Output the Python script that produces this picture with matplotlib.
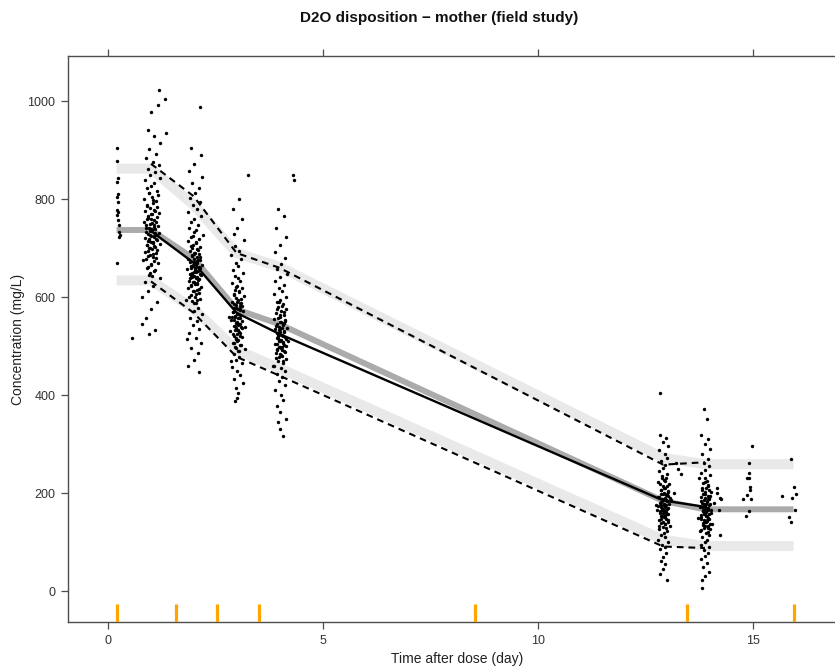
import numpy as np
import matplotlib
matplotlib.use("Agg")
import matplotlib.pyplot as plt
import matplotlib.transforms as mtransforms

plt.rcParams['font.family'] = ['Liberation Sans', 'DejaVu Sans']

# bin boundaries (orange rug on the x axis)
bin_edges = [0.20, 1.58, 2.53, 3.50, 8.53, 13.47, 15.94]

# observed percentiles at bin medians
bin_mid = [1.00, 1.99, 2.99, 3.98, 12.91, 13.88]
obs_p50 = [735, 670, 568, 525, 185, 172]
obs_p05 = [632, 568, 478, 440, 91, 88]
obs_p95 = [872, 806, 690, 660, 258, 263]

# simulated percentiles (flat out to first / last bin boundary)
sim_x = [0.20, 1.00, 1.99, 2.99, 3.98, 12.91, 13.88, 15.94]
sim_p50 = [737, 737, 679, 575, 545, 184, 167, 167]
sim_p05 = [634, 634, 576, 492, 455, 105, 92, 92]
sim_p95 = [862, 862, 788, 690, 662, 272, 259, 259]

# observations, grouped by sampling occasion
a_time = [0.22, 0.21, 0.23, 0.22, 0.24, 0.21, 0.23, 0.22, 0.24, 0.21, 0.23, 0.25, 0.26, 0.27, 0.26, 0.22, 0.55]
a_conc = [904, 878, 843, 835, 811, 805, 795, 778, 774, 767, 757, 747, 733, 727, 722, 670, 516]

b_time = [1.19, 1.33, 1.16, 1.00, 1.36, 0.92, 1.08, 1.22, 0.95, 1.12,
          0.88, 1.04, 1.18, 0.93, 1.10, 0.98, 1.20, 0.86, 1.06, 1.01,
          0.90, 1.14, 0.96, 1.17, 1.02, 0.84, 1.11, 1.05, 0.91, 1.15,
          0.97, 1.08, 0.87, 1.19, 1.03, 0.94, 1.13, 0.99, 1.07, 0.83,
          1.02, 0.89, 1.16, 0.95, 1.10, 1.00, 0.88, 1.18, 0.97, 1.06,
          0.85, 1.12, 0.93, 1.04, 1.21, 0.91, 1.09, 0.98, 1.15, 0.87,
          1.05, 0.94, 1.11, 0.82, 1.17, 1.00, 0.90, 1.08, 0.96, 1.22,
          0.86, 1.05, 0.93, 0.80, 1.13, 1.00, 0.89, 0.79, 1.10, 0.95,
          0.96, 1.04, 0.91, 1.09, 1.00, 0.94, 1.12, 0.98, 1.06, 0.89,
          1.03, 0.97, 1.10, 0.92, 1.01, 1.07, 0.95, 1.13, 0.99, 1.05,
          0.90, 1.08, 0.96, 1.02, 0.93, 1.11, 0.98, 1.04, 0.88, 1.06,
          1.00, 0.94, 1.09, 0.97, 1.03, 0.91, 1.07, 0.99, 1.14, 0.95]
b_conc = [1022, 1005, 992, 978, 934, 940, 928, 915, 902, 893,
          884, 876, 869, 862, 856, 850, 844, 838, 832, 827,
          822, 817, 812, 808, 804, 800, 796, 792, 788, 784,
          781, 778, 775, 772, 769, 766, 763, 760, 757, 754,
          751, 748, 745, 742, 739, 736, 733, 730, 727, 724,
          721, 718, 715, 712, 709, 706, 703, 700, 696, 692,
          688, 684, 680, 675, 670, 665, 659, 653, 646, 639,
          631, 622, 612, 601, 590, 575, 558, 545, 533, 524,
          812, 798, 785, 776, 769, 761, 754, 749, 744, 740,
          737, 734, 731, 728, 725, 722, 719, 716, 713, 710,
          707, 704, 701, 698, 694, 690, 686, 682, 678, 673,
          668, 662, 656, 650, 644, 760, 747, 738, 726, 715]

c_time = [2.14, 1.93, 2.16, 2.00, 1.88, 2.18, 1.96, 2.11, 2.03, 1.91,
          2.13, 1.98, 2.07, 1.86, 2.17, 2.01, 1.94, 2.10, 1.89, 2.05,
          2.00, 2.20, 1.92, 2.12, 1.85, 2.04, 1.97, 2.15, 2.08, 1.90,
          2.02, 2.11, 1.95, 2.06, 1.87, 2.14, 1.99, 2.07, 2.19, 1.93,
          2.03, 1.84, 2.09, 2.00, 1.91, 2.16, 1.96, 2.05, 2.12, 1.89,
          2.01, 2.08, 1.94, 2.17, 1.86, 2.06, 1.98, 2.11, 1.92, 2.03,
          2.14, 1.95, 2.05, 1.82, 2.10, 2.00, 2.18, 1.90, 2.07, 1.97,
          2.12, 1.88, 2.04, 2.16, 1.93, 2.09, 1.99, 1.85, 2.11, 1.83,
          1.97, 2.05, 1.92, 2.10, 2.01, 1.95, 2.13, 1.99, 2.07, 1.90,
          2.04, 1.98, 2.11, 1.93, 2.02, 2.08, 1.96, 2.14, 2.00, 2.06,
          1.91, 2.09, 1.97, 2.03, 1.94, 2.12, 1.99, 2.05, 1.89, 2.07,
          2.01, 1.95, 2.10, 1.98, 2.04, 1.92, 2.08, 2.00, 2.15, 1.96]
c_conc = [988, 905, 890, 872, 858, 845, 833, 822, 812, 803,
          795, 787, 780, 773, 766, 760, 754, 748, 742, 737,
          732, 727, 722, 718, 714, 710, 706, 702, 698, 694,
          690, 687, 684, 681, 678, 675, 672, 669, 666, 663,
          660, 657, 654, 651, 648, 645, 642, 639, 636, 633,
          630, 627, 624, 621, 618, 615, 612, 608, 604, 600,
          596, 592, 587, 595, 577, 571, 565, 558, 551, 543,
          535, 526, 517, 507, 496, 485, 472, 460, 448, 515,
          725, 712, 704, 697, 691, 686, 682, 678, 674, 671,
          668, 665, 662, 659, 656, 653, 650, 647, 644, 641,
          638, 634, 630, 626, 622, 617, 612, 606, 600, 594,
          588, 700, 676, 664, 652, 640, 628, 688, 660, 645]

d_time = [3.25, 3.05, 2.90, 3.12, 3.00, 2.93, 3.16, 2.96, 3.04, 2.87,
          3.09, 2.98, 3.02, 2.91, 3.13, 2.95, 3.03, 3.07, 2.88, 3.00,
          3.11, 2.96, 3.04, 2.92, 3.17, 2.98, 3.02, 2.89, 3.08, 2.97,
          3.06, 2.94, 3.03, 3.14, 2.90, 3.00, 3.08, 2.95, 3.02, 2.86,
          3.12, 2.98, 3.05, 2.92, 3.09, 2.97, 3.03, 2.84, 3.06, 3.00,
          2.94, 3.11, 2.98, 3.01, 2.90, 3.07, 2.96, 3.18, 3.03, 2.93,
          3.05, 2.98, 3.12, 2.89, 3.00, 3.06, 2.94, 3.15, 2.97, 3.03,
          3.00, 2.95, 2.85, 3.19, 2.82,
          2.97, 3.04, 2.92, 3.09, 3.00, 2.94, 3.11, 2.98, 3.06, 2.90,
          3.03, 2.96, 3.08, 2.93, 3.01, 3.07, 2.95, 3.12, 2.99, 3.05,
          2.91, 3.08, 2.97, 3.02, 2.93, 3.10, 2.98, 3.04, 2.89, 3.06,
          3.00, 2.95, 3.09, 2.97, 3.03]
d_conc = [850, 800, 780, 760, 742, 728, 716, 705, 695, 686,
          678, 670, 663, 656, 650, 644, 638, 633, 628, 623,
          618, 614, 610, 606, 602, 598, 594, 590, 587, 584,
          581, 578, 575, 572, 569, 566, 563, 560, 557, 554,
          551, 548, 545, 542, 539, 536, 533, 530, 527, 524,
          521, 518, 515, 511, 507, 503, 499, 494, 489, 484,
          478, 472, 465, 458, 450, 442, 433, 424, 415, 405,
          395, 388, 470, 540, 560,
          620, 612, 604, 597, 591, 586, 581, 577, 573, 569,
          565, 561, 557, 553, 549, 545, 541, 537, 533, 529,
          525, 521, 517, 512, 507, 502, 496, 490, 560, 575,
          548, 532, 588, 515, 543]

e_time = [4.31, 4.33, 3.95, 4.09, 3.91, 4.14, 4.00, 3.88, 4.11, 4.03,
          3.94, 4.16, 4.01, 3.89, 4.10, 3.97, 4.05, 3.86, 4.13, 4.00,
          3.93, 4.07, 3.96, 4.15, 4.03, 3.90, 4.10, 4.00, 3.87, 4.12,
          4.02, 3.94, 4.06, 3.98, 4.17, 3.89, 4.09, 4.00, 3.95, 4.04,
          4.11, 3.92, 4.02, 3.97, 4.08, 3.88, 4.13, 4.00, 3.94, 4.05,
          4.10, 3.91, 4.03, 3.98, 4.15, 3.95, 4.07, 3.86, 4.02, 4.11,
          3.93, 4.05, 3.98, 4.12, 3.89, 4.03, 4.08, 3.94, 4.00, 4.14,
          3.96, 4.01, 4.06, 3.84, 4.18,
          3.98, 4.05, 3.93, 4.10, 4.01, 3.95, 4.12, 3.99, 4.07, 3.91,
          4.04, 3.97, 4.09, 3.94, 4.02, 4.08, 3.96, 4.13, 4.00, 4.06,
          3.92, 4.09, 3.98, 4.03, 3.94, 4.11, 3.99, 4.05, 3.90, 4.07,
          4.01, 3.96, 4.10, 3.98, 4.04]
e_conc = [849, 839, 780, 765, 740, 722, 706, 692, 680, 668,
          658, 648, 640, 632, 625, 618, 612, 606, 600, 595,
          590, 585, 580, 576, 572, 568, 564, 560, 556, 552,
          549, 546, 543, 540, 537, 534, 531, 528, 525, 522,
          519, 516, 513, 510, 507, 504, 501, 498, 495, 492,
          489, 486, 482, 478, 474, 470, 465, 460, 455, 449,
          443, 436, 428, 420, 410, 400, 390, 378, 365, 352,
          345, 330, 316, 460, 510,
          590, 582, 575, 569, 563, 558, 553, 549, 545, 541,
          537, 533, 529, 526, 523, 520, 517, 514, 511, 508,
          505, 502, 499, 496, 492, 488, 484, 480, 475, 470,
          535, 521, 547, 512, 498]

f_time = [12.84, 12.83, 12.97, 12.90, 13.02, 12.82, 12.94, 12.99, 12.86, 12.95,
          12.91, 12.81, 13.00, 12.88, 12.97, 12.93, 12.79, 13.04, 12.90, 12.96,
          12.85, 13.01, 12.92, 12.87, 13.03, 12.80, 12.94, 12.98, 12.89, 12.84,
          13.05, 12.92, 12.78, 12.96, 12.88, 13.00, 12.93, 12.83, 12.98, 12.90,
          13.02, 12.85, 12.92, 12.97, 12.81, 13.01, 12.87, 12.94, 13.06, 12.90,
          12.82, 12.99, 12.92, 12.86, 12.96, 12.79, 13.03, 12.89, 12.95, 12.84,
          12.98, 12.91, 12.87, 12.96, 12.90, 12.83, 12.99, 13.10, 12.74, 13.15,
          13.06, 12.76, 13.25, 13.32, 13.20,
          12.89, 12.96, 12.84, 13.00, 12.92, 12.86, 13.02, 12.90, 12.97, 12.82,
          12.94, 12.88, 12.99, 12.85, 12.93, 12.98, 12.87, 13.03, 12.91, 12.95,
          12.83, 13.00, 12.89, 12.94, 12.86, 13.01, 12.90, 12.96, 12.81, 12.97,
          12.92, 12.87, 13.00, 12.89, 12.94]
f_conc = [405, 318, 312, 305, 296, 288, 280, 272, 265, 258,
          252, 246, 240, 235, 230, 226, 222, 218, 214, 210,
          207, 204, 201, 198, 195, 192, 189, 186, 183, 180,
          178, 176, 174, 172, 170, 168, 166, 164, 162, 160,
          157, 154, 151, 148, 145, 142, 139, 136, 133, 130,
          126, 122, 118, 114, 110, 105, 100, 95, 90, 85,
          78, 70, 62, 55, 45, 35, 22, 185, 175, 200,
          190, 165, 250, 240, 262,
          230, 224, 219, 214, 210, 206, 202, 199, 196, 193,
          190, 187, 184, 181, 178, 175, 172, 169, 166, 163,
          160, 157, 154, 151, 148, 145, 141, 137, 133, 128,
          188, 176, 198, 165, 155]

g_time = [13.85, 13.92, 13.80, 13.96, 13.87, 14.00, 13.82, 13.94, 13.86, 13.97,
          13.89, 13.78, 13.99, 13.87, 13.92, 13.83, 13.96, 13.90, 13.81, 14.02,
          13.88, 13.94, 13.79, 13.98, 13.85, 13.92, 13.82, 14.00, 13.89, 13.76,
          13.95, 13.87, 14.03, 13.83, 13.91, 13.86, 13.98, 13.80, 13.90, 13.96,
          13.78, 13.92, 13.88, 14.04, 13.84, 13.94, 13.86, 14.00, 13.77, 13.90,
          13.97, 13.82, 13.92, 13.88, 13.80, 13.98, 13.85, 13.94, 13.89, 13.79,
          13.93, 13.84, 13.97, 13.87, 13.81, 13.82, 14.15, 14.22, 14.26, 14.10,
          13.72, 14.22, 14.15, 13.75, 14.20,
          13.87, 13.94, 13.81, 13.98, 13.89, 13.83, 14.00, 13.88, 13.95, 13.79,
          13.92, 13.85, 13.97, 13.82, 13.90, 13.96, 13.84, 14.01, 13.88, 13.93,
          13.80, 13.98, 13.86, 13.91, 13.83, 13.99, 13.87, 13.94, 13.78, 13.95,
          13.90, 13.84, 13.97, 13.86, 13.92]
g_conc = [371, 352, 318, 310, 300, 290, 280, 270, 262, 255,
          248, 242, 236, 230, 225, 220, 215, 211, 207, 203,
          199, 195, 192, 189, 186, 183, 180, 177, 174, 172,
          170, 168, 166, 164, 162, 160, 158, 156, 153, 150,
          147, 144, 141, 138, 135, 132, 129, 126, 122, 118,
          114, 110, 105, 100, 95, 90, 84, 78, 72, 65,
          58, 50, 40, 30, 22, 6, 210, 190, 188, 180,
          150, 114, 200, 230, 165,
          222, 216, 211, 206, 202, 198, 194, 190, 187, 184,
          181, 178, 175, 172, 169, 166, 163, 160, 157, 154,
          151, 148, 145, 142, 139, 136, 132, 128, 124, 120,
          178, 165, 190, 158, 145]

h_time = [14.98, 14.91, 14.91, 14.85, 14.91, 14.93, 14.93, 14.85, 14.77, 14.95,
          14.91, 14.84, 15.67, 15.88, 15.94, 15.99, 15.90, 15.98, 15.84, 15.88]
h_conc = [297, 261, 242, 230, 230, 213, 206, 197, 187, 187,
          164, 154, 194, 269, 213, 198, 190, 165, 152, 141]

obs_time = a_time + b_time + c_time + d_time + e_time + f_time + g_time + h_time
obs_conc = a_conc + b_conc + c_conc + d_conc + e_conc + f_conc + g_conc + h_conc

fig = plt.figure(figsize=(8.35, 6.69), dpi=100)
ax = fig.add_axes([68 / 835, 47 / 669, 778 / 835, 566 / 669])

# simulated percentile bands
ax.plot(sim_x, sim_p95, color='#e9e9e9', lw=7.2, solid_capstyle='butt', zorder=1)
ax.plot(sim_x, sim_p05, color='#e9e9e9', lw=7.2, solid_capstyle='butt', zorder=1)
ax.plot(sim_x, sim_p50, color='#ababab', lw=4.3, solid_capstyle='butt', zorder=1)

ax.scatter(obs_time, obs_conc, s=6, color='black', linewidths=0, zorder=2)

# observed percentiles
ax.plot(bin_mid, obs_p50, color='black', lw=1.7, zorder=3)
ax.plot(bin_mid, obs_p05, color='black', lw=1.5, ls=(0, (3.2, 2.4)), zorder=3)
ax.plot(bin_mid, obs_p95, color='black', lw=1.5, ls=(0, (3.2, 2.4)), zorder=3)

# bin boundaries as rug
trans = mtransforms.blended_transform_factory(ax.transData, ax.transAxes)
ax.vlines(bin_edges, 0, 0.032, color='#FFA500', lw=2.3, transform=trans, zorder=4)

ax.set_xlim(-0.93, 17.16)
ax.set_ylim(-63, 1092)
ax.set_xticks([0, 5, 10, 15])
ax.set_yticks([0, 200, 400, 600, 800, 1000])

frame_col = '#4d4d4d'
for sp in ax.spines.values():
    sp.set_color(frame_col)
    sp.set_linewidth(1.0)
ax.tick_params(axis='both', direction='out', length=5, width=0.9, color=frame_col,
               labelcolor='#333333', labelsize=9, pad=4)
ax.tick_params(axis='x', top=True, labeltop=False)

ax.set_xlabel('Time after dose (day)', fontsize=10, color='#222222', labelpad=4)
ax.set_ylabel('Concentration (mg/L)', fontsize=10, color='#222222', labelpad=2)

fig.text(439 / 835, 1 - 18 / 669, 'D2O disposition \u2212 mother (field study)',
         ha='center', va='center', fontsize=11, fontweight='bold', color='#111111')

fig.savefig('out.png', dpi=100)
